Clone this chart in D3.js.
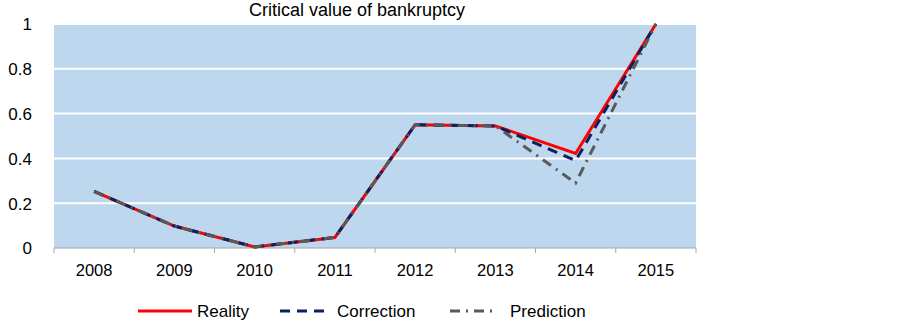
<!DOCTYPE html>
<html>
<head>
<meta charset="utf-8">
<script src="https://cdn.jsdelivr.net/npm/d3@7"></script>
<style>
  body { margin: 0; background: #fff; }
  text { font-family: "Liberation Sans", Arial, sans-serif; fill: #000; }
</style>
</head>
<body>
<div id="chart"></div>
<script>
const width = 903;
const height = 320;

const years = ['2008', '2009', '2010', '2011', '2012', '2013', '2014', '2015'];
const reality = [0.253, 0.098, 0.005, 0.047, 0.55, 0.545, 0.422, 1.0];
const correction = [0.253, 0.098, 0.005, 0.047, 0.55, 0.545, 0.39, 1.0];
const prediction = [0.253, 0.098, 0.005, 0.047, 0.55, 0.545, 0.29, 1.0];
const yTicks = [0, 0.2, 0.4, 0.6, 0.8, 1];

const series = [
  { name: 'Reality', values: reality, color: '#ff0000', dash: null, width: 3 },
  { name: 'Correction', values: correction, color: '#0c1f5e', dash: '10,7', width: 3 },
  { name: 'Prediction', values: prediction, color: '#595959', dash: '10,6,2,6', width: 3 }
];

const plotLeft = 54, plotRight = 696, plotTop = 24, plotBottom = 248;

const svg = d3.select('#chart')
  .append('svg')
    .attr('width', width)
    .attr('height', height);

const x = d3.scaleBand().domain(years).range([plotLeft, plotRight]);
const y = d3.scaleLinear().domain([0, 1]).range([plotBottom, plotTop]);

// plot background
svg.append('rect')
  .attr('x', plotLeft)
  .attr('y', plotTop)
  .attr('width', plotRight - plotLeft)
  .attr('height', plotBottom - plotTop)
  .attr('fill', '#bdd7ee');

// gridlines
svg.append('g')
  .selectAll('line')
  .data(yTicks.filter(d => d > 0))
  .join('line')
    .attr('x1', plotLeft)
    .attr('x2', plotRight)
    .attr('y1', d => y(d))
    .attr('y2', d => y(d))
    .attr('stroke', '#fff')
    .attr('stroke-width', 2);

// y axis labels
const yAxis = svg.append('g')
  .attr('transform', `translate(${plotLeft}, 0)`)
  .call(d3.axisLeft(y).tickValues(yTicks).tickFormat(d3.format('')).tickSize(0).tickPadding(22));
yAxis.select('.domain').remove();
yAxis.selectAll('text')
  .style('font-size', '17px')
  .attr('dy', '0.35em');

// x axis
const xAxis = svg.append('g')
  .attr('transform', `translate(0, ${plotBottom})`)
  .call(d3.axisBottom(x).tickSize(0).tickPadding(16));
xAxis.select('.domain').attr('stroke', '#a6a6a6').attr('d', `M${plotLeft},0H${plotRight}`);
xAxis.selectAll('text').style('font-size', '16.5px');

// category separators
svg.append('g')
  .selectAll('line')
  .data(years.map(d => x(d)).concat([plotRight]))
  .join('line')
    .attr('x1', d => d)
    .attr('x2', d => d)
    .attr('y1', plotBottom)
    .attr('y2', plotBottom + 5)
    .attr('stroke', '#a6a6a6');

// lines
const line = d3.line()
  .x((d, i) => x(years[i]) + x.bandwidth() / 2)
  .y(d => y(d));

svg.append('g')
  .selectAll('path')
  .data(series)
  .join('path')
    .attr('d', d => line(d.values))
    .attr('fill', 'none')
    .attr('stroke', d => d.color)
    .attr('stroke-width', d => d.width)
    .attr('stroke-dasharray', d => d.dash);

// title
svg.append('text')
  .attr('x', 357)
  .attr('y', 16)
  .attr('text-anchor', 'middle')
  .style('font-size', '18px')
  .text('Critical value of bankruptcy');

// legend
const legendItems = [
  { x1: 138, x2: 192, tx: 197 },
  { x1: 280, x2: 330, tx: 337 },
  { x1: 450, x2: 493, tx: 510 }
];
const legend = svg.append('g')
  .selectAll('g')
  .data(series)
  .join('g');

legend.append('line')
  .attr('x1', (d, i) => legendItems[i].x1)
  .attr('x2', (d, i) => legendItems[i].x2)
  .attr('y1', 311)
  .attr('y2', 311)
  .attr('stroke', d => d.color)
  .attr('stroke-width', 3)
  .attr('stroke-dasharray', d => d.dash);

legend.append('text')
  .attr('x', (d, i) => legendItems[i].tx)
  .attr('y', 317)
  .style('font-size', '17px')
  .text(d => d.name);
</script>
</body>
</html>
